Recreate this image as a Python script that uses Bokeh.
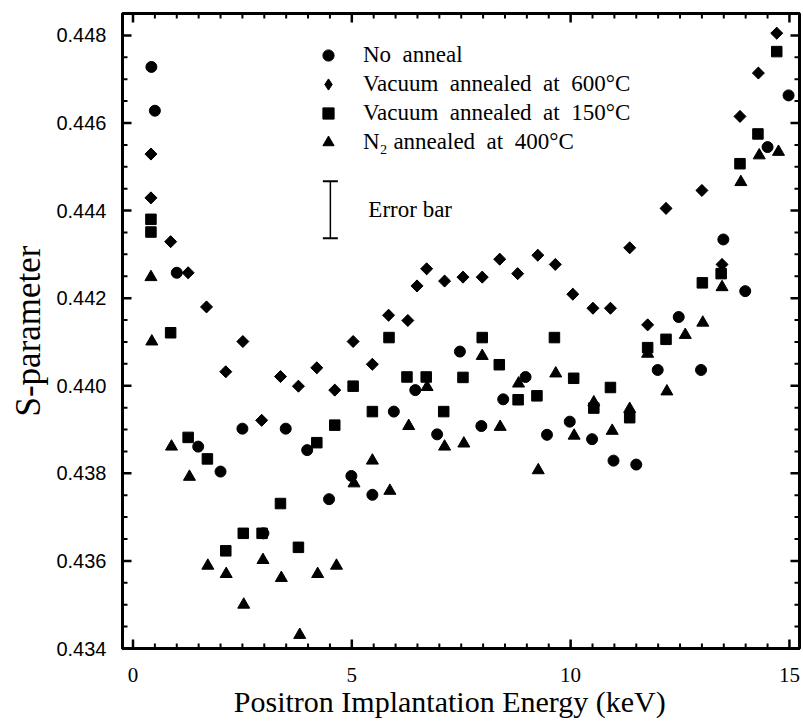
import numpy as np
from bokeh.plotting import figure
from bokeh.models import (FixedTicker, PrintfTickFormatter, Range1d, Span,
                          Legend, LegendItem, Whisker, ColumnDataSource, TeeHead)
from bokeh.core.properties import value
from bokeh.embed import file_html
from bokeh.resources import INLINE

# ---- data ----
no_anneal_x = [0.42, 0.50, 1.00, 1.49, 2.00, 2.50, 2.98, 3.49, 3.98, 4.48, 4.99, 5.47, 5.96, 6.45,
               6.95, 7.47, 7.96, 8.46, 8.97, 9.46, 9.98, 10.49, 10.98, 11.50, 11.99, 12.47, 12.98,
               13.49, 13.99, 14.50, 14.98]
no_anneal_y = [0.44728, 0.44628, 0.44258, 0.43861, 0.43804, 0.43902, 0.43663, 0.43902, 0.43853,
               0.43741, 0.43794, 0.43751, 0.43941, 0.43990, 0.43889, 0.44078, 0.43908, 0.43969,
               0.44020, 0.43888, 0.43918, 0.43878, 0.43829, 0.43820, 0.44036, 0.44157, 0.44036,
               0.44334, 0.44216, 0.44545, 0.44663]

vac600_x = [0.41, 0.41, 0.86, 1.26, 1.68, 2.12, 2.51, 2.94, 3.37, 3.78, 4.20, 4.61, 5.03, 5.47,
            5.84, 6.28, 6.49, 6.71, 7.12, 7.54, 7.98, 8.38, 8.79, 9.25, 9.65, 10.05, 10.51, 10.91,
            11.35, 11.76, 12.18, 13.00, 13.46, 13.87, 14.29, 14.71]
vac600_y = [0.44529, 0.44429, 0.44329, 0.44258, 0.44180, 0.44032, 0.44101, 0.43921, 0.44021,
            0.43999, 0.44041, 0.43990, 0.44101, 0.44049, 0.44161, 0.44149, 0.44228, 0.44267,
            0.44239, 0.44248, 0.44248, 0.44289, 0.44256, 0.44298, 0.44277, 0.44209, 0.44177,
            0.44177, 0.44315, 0.44139, 0.44405, 0.44446, 0.44277, 0.44615, 0.44714, 0.44805]

vac150_x = [0.41, 0.41, 0.86, 1.26, 1.70, 2.12, 2.52, 2.95, 3.37, 3.78, 4.20, 4.61, 5.03, 5.47,
            5.85, 6.26, 6.70, 7.10, 7.54, 7.98, 8.37, 8.80, 9.23, 9.63, 10.07, 10.53, 10.91,
            11.35, 11.76, 12.18, 13.01, 13.44, 13.87, 14.28, 14.71]
vac150_y = [0.44380, 0.44351, 0.44121, 0.43882, 0.43833, 0.43623, 0.43663, 0.43663, 0.43731,
            0.43631, 0.43870, 0.43910, 0.43999, 0.43941, 0.44110, 0.44020, 0.44020, 0.43941,
            0.44019, 0.44110, 0.44048, 0.43968, 0.43977, 0.44110, 0.44017, 0.43949, 0.43996,
            0.43927, 0.44087, 0.44106, 0.44235, 0.44256, 0.44507, 0.44575, 0.44763]

n2_x = [0.41, 0.43, 0.88, 1.29, 1.71, 2.13, 2.53, 2.97, 3.39, 3.81, 4.22, 4.65, 5.05, 5.47, 5.87,
        6.30, 6.72, 7.12, 7.56, 7.98, 8.39, 8.81, 9.26, 9.66, 10.08, 10.53, 10.95, 11.35, 11.76,
        12.20, 12.62, 13.02, 13.46, 13.89, 14.31, 14.75]
n2_y = [0.44248, 0.44101, 0.43861, 0.43792, 0.43589, 0.43570, 0.43500, 0.43602, 0.43561, 0.43431,
        0.43570, 0.43589, 0.43777, 0.43829, 0.43760, 0.43908, 0.43997, 0.43861, 0.43868, 0.44068,
        0.43906, 0.44005, 0.43807, 0.44028, 0.43886, 0.43962, 0.43897, 0.43947, 0.44073, 0.43987,
        0.44116, 0.44144, 0.44225, 0.44465, 0.44526, 0.44534]

series_labels = ["No  anneal", "Vacuum  annealed  at  600\u00b0C", "Vacuum  annealed  at  150\u00b0C",
                 "N\u2082 annealed  at  400\u00b0C"]

errbar_x = 4.51
errbar_center = 0.44402
errbar_half = 0.00065
errbar_label = "Error  bar"

x_title = "Positron  Implantation  Energy  (keV)"
y_title = "S-parameter"

x_lo, x_hi = -0.24, 15.23
y_lo, y_hi = 0.434, 0.4485
x_major_ticks = [0, 5, 10, 15]
x_minor_ticks = [v * 0.5 for v in range(31) if v % 10 != 0]
y_major_ticks = [0.434, 0.436, 0.438, 0.440, 0.442, 0.444, 0.446, 0.448]
y_minor_ticks = [0.434 + v * 0.0005 for v in range(29) if v % 4 != 0]

# ---- layout (pixels) ----
fig_w, fig_h = 803, 723
border_l, border_r, border_t, border_b = 122, 4, 13, 75
frame_w = fig_w - border_l - border_r
frame_h = fig_h - border_t - border_b
major_len_px, minor_len_px = 9, 5

p = figure(width=fig_w, height=fig_h, output_backend="svg", toolbar_location=None,
           x_range=Range1d(x_lo, x_hi), y_range=Range1d(y_lo, y_hi),
           min_border_left=border_l, min_border_right=border_r,
           min_border_top=border_t, min_border_bottom=border_b,
           x_axis_label=x_title, y_axis_label=y_title)
p.grid.visible = False
p.outline_line_color = "black"
p.outline_line_width = 3
p.background_fill_color = "white"
p.border_fill_color = "white"

for ax in (p.xaxis[0], p.yaxis[0]):
    ax.axis_line_width = 3
    ax.axis_line_color = "black"
    ax.major_tick_in = 0
    ax.major_tick_out = 0
    ax.minor_tick_in = 0
    ax.minor_tick_out = 0

xa = p.xaxis[0]
xa.ticker = FixedTicker(ticks=x_major_ticks, minor_ticks=x_minor_ticks)
xa.major_label_text_font = "Liberation Serif"
xa.major_label_text_font_size = "21px"
xa.major_label_text_color = "black"
xa.major_label_standoff = 19
xa.axis_label_text_font = "Liberation Serif"
xa.axis_label_text_font_size = "30px"
xa.axis_label_text_font_style = "normal"
xa.axis_label_text_color = "black"
xa.axis_label_standoff = 0

ya = p.yaxis[0]
ya.ticker = FixedTicker(ticks=y_major_ticks, minor_ticks=y_minor_ticks)
ya.formatter = PrintfTickFormatter(format="%.3f")
ya.major_label_text_font = "Liberation Sans"
ya.major_label_text_font_size = "20px"
ya.major_label_text_color = "black"
ya.major_label_standoff = 16
ya.axis_label_text_font = "Liberation Serif"
ya.axis_label_text_font_size = "35px"
ya.axis_label_text_font_style = "normal"
ya.axis_label_text_color = "black"
ya.axis_label_standoff = 5

# ---- frame box: top and right sides ----
p.add_layout(Span(location=y_hi, dimension="width", line_color="black", line_width=3))
p.add_layout(Span(location=x_hi, dimension="height", line_color="black", line_width=3))

# ---- inward ticks on all four sides ----
dx = (x_hi - x_lo) / frame_w
dy = (y_hi - y_lo) / frame_h


def xticks(ticks, length_px, width):
    n = len(ticks)
    L = length_px * dy
    p.segment(x0=ticks, y0=[y_lo] * n, x1=ticks, y1=[y_lo + L] * n,
              line_color="black", line_width=width)
    p.segment(x0=ticks, y0=[y_hi] * n, x1=ticks, y1=[y_hi - L] * n,
              line_color="black", line_width=width)


def yticks(ticks, length_px, width):
    n = len(ticks)
    L = length_px * dx
    p.segment(x0=[x_lo] * n, y0=ticks, x1=[x_lo + L] * n, y1=ticks,
              line_color="black", line_width=width)
    p.segment(x0=[x_hi] * n, y0=ticks, x1=[x_hi - L] * n, y1=ticks,
              line_color="black", line_width=width)


xticks(x_major_ticks, major_len_px, 2.5)
xticks(x_minor_ticks, minor_len_px, 2)
yticks(y_major_ticks, major_len_px, 2.5)
yticks(y_minor_ticks, minor_len_px, 2)

# ---- data marks ----
r_c = p.scatter(no_anneal_x, no_anneal_y, marker="circle", size=11, color="black")
# legend key for the diamonds: a plain diamond drawn underneath (hidden by) the
# rotated-square diamonds below, since legend glyphs ignore marker angle
r_d_key = p.scatter(vac600_x, vac600_y, marker="diamond", size=11, color="black")
r_d = p.scatter(vac600_x, vac600_y, marker="square", angle=np.pi / 4, size=8.5, color="black")
r_s = p.scatter(vac150_x, vac150_y, marker="square", size=10.5, color="black")
r_t = p.scatter(n2_x, n2_y, marker="triangle", size=12, color="black")

legend = Legend(items=[LegendItem(label=series_labels[0], renderers=[r_c]),
                       LegendItem(label=series_labels[1], renderers=[r_d_key]),
                       LegendItem(label=series_labels[2], renderers=[r_s]),
                       LegendItem(label=series_labels[3], renderers=[r_t])],
                location=(192, 492), padding=0, margin=0, spacing=1,
                glyph_width=28, glyph_height=28, label_height=20, label_standoff=21,
                border_line_alpha=0, background_fill_alpha=0,
                label_text_font="Liberation Serif", label_text_font_size="23px",
                label_text_color="black")
p.add_layout(legend)

# ---- error bar annotation ----
err_src = ColumnDataSource(dict(base=[errbar_x], lower=[errbar_center - errbar_half],
                                upper=[errbar_center + errbar_half]))
w = Whisker(source=err_src, base="base", lower="lower", upper="upper", dimension="height",
            line_width=1.5, line_color="black",
            upper_head=TeeHead(size=15, line_width=2, line_color="black"),
            lower_head=TeeHead(size=15, line_width=2, line_color="black"))
p.add_layout(w)
p.text(x=[errbar_x], y=[errbar_center], text=[errbar_label], x_offset=38,
       text_baseline="middle", text_align="left", text_font=value("Liberation Serif"),
       text_font_size="23px", text_color="black")

open("out.html", "w").write(file_html(p, INLINE))
